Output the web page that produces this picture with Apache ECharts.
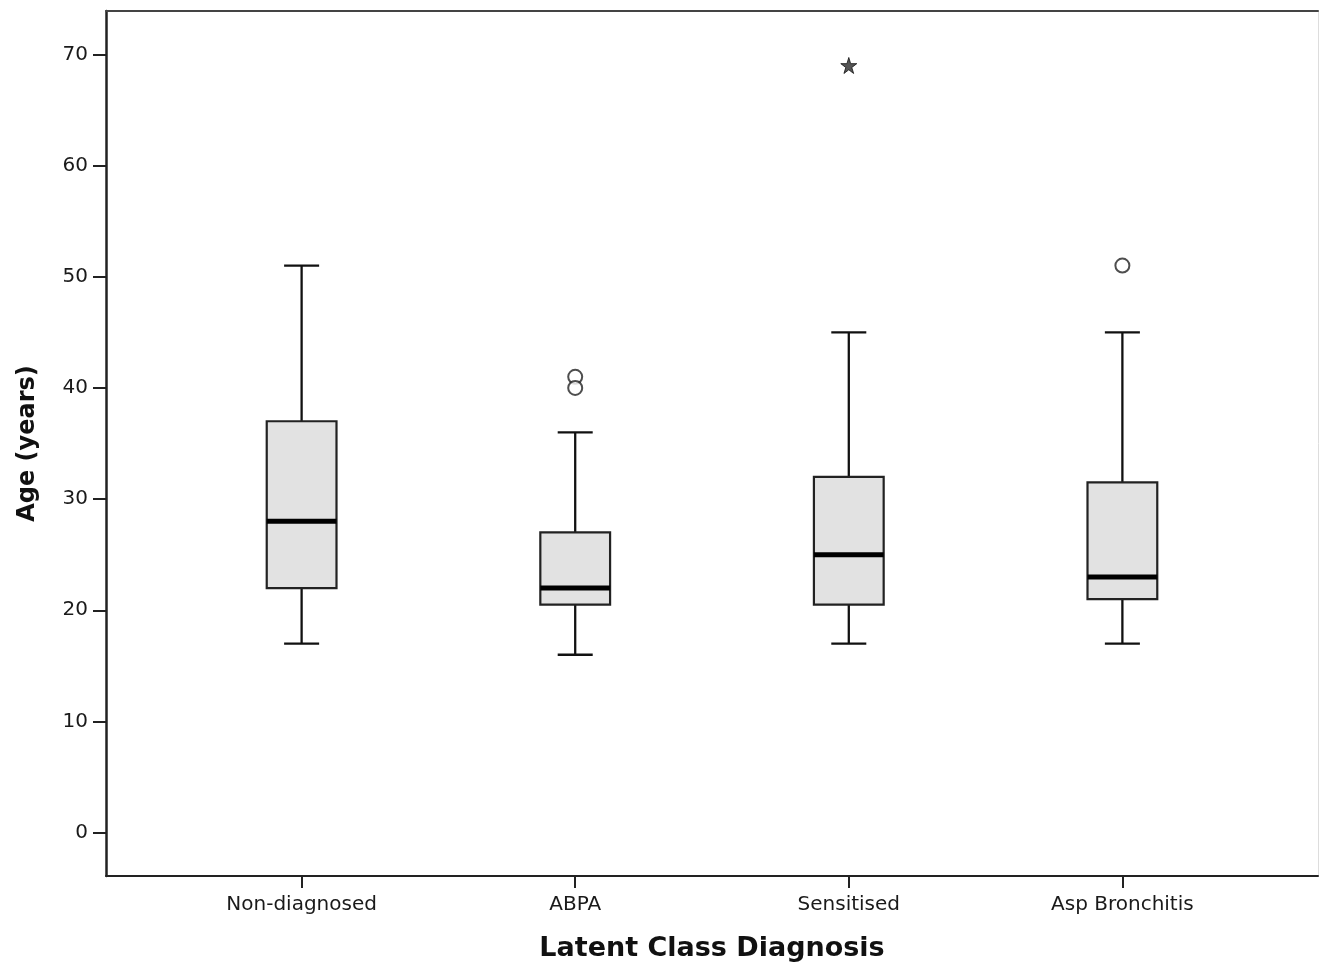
<!DOCTYPE html>
<html>
<head>
<meta charset="utf-8">
<script src="https://cdn.jsdelivr.net/npm/echarts@6/dist/echarts.min.js"></script>
<style>
html,body{margin:0;padding:0;background:#fff;}
#chart{width:1320px;height:967px;}
</style>
</head>
<body>
<div id="chart"></div>
<script>
const categories = ['Non-diagnosed', 'ABPA', 'Sensitised', 'Asp Bronchitis'];
const lowerWhisker = [17, 16, 17, 17];
const q1 = [22, 20.5, 20.5, 21];
const median = [28, 22, 25, 23];
const q3 = [37, 27, 32, 31.5];
const upperWhisker = [51, 36, 45, 45];
const outliers = [[1, 41], [1, 40], [3, 51]];   // [category index, age]
const extremes = [[2, 69]];                       // [category index, age]
const yTicks = [0, 10, 20, 30, 40, 50, 60, 70];

const boxData = categories.map((c, i) => [i, lowerWhisker[i], q1[i], median[i], q3[i], upperWhisker[i]]);

const BOX_W = 0.255, CAP_W = 0.128;
const FONT = '"DejaVu Sans", Verdana, sans-serif';

function renderBox(params, api) {
  const x = api.value(0);
  const lo = api.value(1), b1 = api.value(2), md = api.value(3), b3 = api.value(4), hi = api.value(5);
  const pL = api.coord([x - BOX_W / 2, b3]);
  const pR = api.coord([x + BOX_W / 2, b1]);
  const pc = (v) => api.coord([x, v]);
  const cL = api.coord([x - CAP_W / 2, lo])[0];
  const cR = api.coord([x + CAP_W / 2, lo])[0];
  const lineStyle = { stroke: '#111', lineWidth: 2.3 };
  return {
    type: 'group',
    children: [
      { type: 'line', shape: { x1: pc(hi)[0], y1: pc(hi)[1], x2: pc(b3)[0], y2: pc(b3)[1] }, style: lineStyle },
      { type: 'line', shape: { x1: pc(lo)[0], y1: pc(lo)[1], x2: pc(b1)[0], y2: pc(b1)[1] }, style: lineStyle },
      { type: 'line', shape: { x1: cL, y1: pc(hi)[1], x2: cR, y2: pc(hi)[1] }, style: lineStyle },
      { type: 'line', shape: { x1: cL, y1: pc(lo)[1], x2: cR, y2: pc(lo)[1] }, style: lineStyle },
      { type: 'rect', shape: { x: pL[0], y: pL[1], width: pR[0] - pL[0], height: pR[1] - pL[1] },
        style: { fill: '#e2e2e2', stroke: '#222', lineWidth: 2.2 } },
      { type: 'line', shape: { x1: pL[0], y1: pc(md)[1], x2: pR[0], y2: pc(md)[1] },
        style: { stroke: '#000', lineWidth: 5 } }
    ]
  };
}

const chart = echarts.init(document.getElementById('chart'), null, { renderer: 'canvas' });
chart.setOption({
  backgroundColor: '#fff',
  animation: false,
  grid: { left: 106, top: 11, right: 2, bottom: 90, show: false },
  xAxis: [{
    type: 'value', min: -0.715, max: 3.715,
    name: 'Latent Class Diagnosis', nameLocation: 'middle', nameGap: 59,
    nameTextStyle: { fontFamily: FONT, fontSize: 27, fontWeight: 'bold', color: '#111' },
    axisLine: { show: true, onZero: false, lineStyle: { color: '#222', width: 2 } },
    axisTick: { show: true, inside: false, length: 12, customValues: [0, 1, 2, 3], lineStyle: { color: '#222', width: 2 } },
    axisLabel: { customValues: [0, 1, 2, 3], margin: 19, fontFamily: FONT, fontSize: 20, color: '#1a1a1a',
      formatter: (v) => categories[Math.round(v)] },
    splitLine: { show: false }
  }, {
    type: 'value', position: 'top', min: -0.715, max: 3.715,
    axisLine: { show: true, onZero: false, lineStyle: { color: '#444', width: 2 } },
    axisTick: { show: false }, axisLabel: { show: false }, splitLine: { show: false }
  }],
  yAxis: [{
    type: 'value', min: -3.9, max: 73.9,
    name: 'Age (years)', nameLocation: 'middle', nameGap: 66,
    nameTextStyle: { fontFamily: FONT, fontSize: 24, fontWeight: 'bold', color: '#111' },
    axisLine: { show: true, onZero: false, lineStyle: { color: '#222', width: 2.5 } },
    axisTick: { show: true, length: 13, customValues: yTicks, lineStyle: { color: '#222', width: 2 } },
    axisLabel: { customValues: yTicks, margin: 18, fontFamily: FONT, fontSize: 20, color: '#1a1a1a' },
    splitLine: { show: false }
  }, {
    type: 'value', position: 'right', min: -3.9, max: 73.9,
    axisLine: { show: true, onZero: false, lineStyle: { color: '#ddd', width: 1 } },
    axisTick: { show: false }, axisLabel: { show: false }, splitLine: { show: false }
  }],
  series: [{
    type: 'custom',
    renderItem: renderBox,
    encode: { x: 0, y: [1, 2, 3, 4, 5] },
    data: boxData,
    z: 3
  }, {
    type: 'scatter',
    data: outliers,
    symbol: 'circle',
    symbolSize: 14,
    itemStyle: { color: '#fff', borderColor: '#222', borderWidth: 2 },
    z: 4
  }, {
    type: 'scatter',
    data: extremes,
    symbol: 'path://M50,0 L61,35 L98,35 L68,57 L79,91 L50,70 L21,91 L32,57 L2,35 L39,35 Z',
    symbolSize: 16,
    itemStyle: { color: '#2a2a2a', borderColor: '#111', borderWidth: 1 },
    z: 4
  }]
});
</script>
</body>
</html>
